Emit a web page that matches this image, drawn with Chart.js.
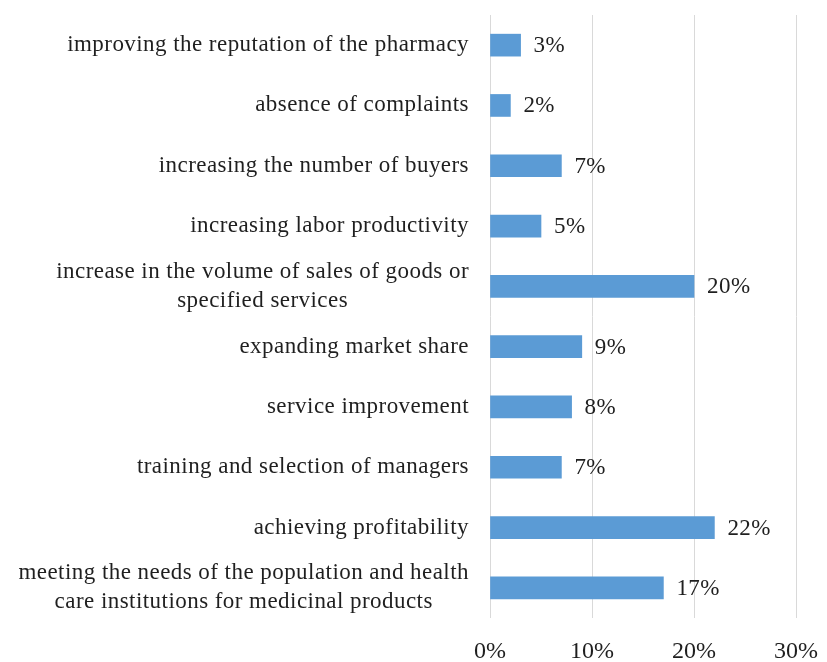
<!DOCTYPE html>
<html>
<head>
<meta charset="utf-8">
<script src="https://cdn.jsdelivr.net/npm/chart.js@4.4.0/dist/chart.umd.min.js"></script>
<style>
  html, body { margin: 0; padding: 0; background: #fff; }
  #wrap { width: 827px; height: 662px; }
</style>
</head>
<body>
<div id="wrap"><canvas id="goalsChart" width="827" height="662"></canvas></div>
<script>
// categories top to bottom, each entry is a list of lines
const categories = [
  ['improving the reputation of the pharmacy'],
  ['absence of complaints'],
  ['increasing the number of buyers'],
  ['increasing labor productivity'],
  ['increase in the volume of sales of goods or', 'specified services'],
  ['expanding market share'],
  ['service improvement'],
  ['training and selection of managers'],
  ['achieving profitability'],
  ['meeting the needs of the population and health', 'care institutions for medicinal products']
];
const shares = [3, 2, 7, 5, 20, 9, 8, 7, 22, 17];
const xTicks = [0, 10, 20, 30];

const SERIF = '"Liberation Serif", "Times New Roman", serif';
const FONT = '23px ' + SERIF;
const TEXT_COLOR = '#1f1f1f';

// draws the category names (centered lines, right-aligned block) and the value labels
const labelsPlugin = {
  id: 'labelsPlugin',
  afterDatasetsDraw(chart) {
    const ctx = chart.ctx;
    const yScale = chart.scales.y;
    const meta = chart.getDatasetMeta(0);
    const rightEdge = chart.chartArea.left - 21;
    const lineHeight = 29;
    ctx.save();
    ctx.font = FONT;
    ctx.letterSpacing = '0.45px';
    ctx.fillStyle = TEXT_COLOR;
    ctx.textBaseline = 'middle';

    categories.forEach((lines, i) => {
      const y = yScale.getPixelForTick(i);
      const widest = Math.max(...lines.map(l => ctx.measureText(l).width));
      const cx = rightEdge - widest / 2;
      ctx.textAlign = 'center';
      lines.forEach((line, k) => {
        const ly = y + (k - (lines.length - 1) / 2) * lineHeight;
        ctx.fillText(line, cx, ly);
      });
    });

    ctx.textAlign = 'left';
    meta.data.forEach((bar, i) => {
      ctx.fillText(shares[i] + '%', bar.x + 13, bar.y + 1);
    });
    ctx.restore();
  }
};

new Chart(document.getElementById('goalsChart'), {
  type: 'bar',
  data: {
    labels: categories.map(l => l.join(' ')),
    datasets: [{
      data: shares,
      backgroundColor: '#5b9bd5',
      borderWidth: 0,
      barThickness: 22
    }]
  },
  options: {
    indexAxis: 'y',
    responsive: false,
    animation: false,
    layout: { padding: { left: 490, right: 31, top: 15, bottom: 0 } },
    plugins: {
      legend: { display: false },
      tooltip: { enabled: false }
    },
    scales: {
      y: { display: false },
      x: {
        min: xTicks[0],
        max: xTicks[xTicks.length - 1],
        afterBuildTicks: scale => { scale.ticks = xTicks.map(v => ({ value: v })); },
        afterFit: scale => {
          scale.height = 44;
          scale.paddingLeft = 0;
          scale.paddingRight = 0;
        },
        grid: { color: '#d9d9d9', drawTicks: false },
        border: { display: false },
        ticks: {
          padding: 19,
          color: TEXT_COLOR,
          font: { family: SERIF, size: 24 },
          callback: v => v + '%'
        }
      }
    }
  },
  plugins: [labelsPlugin]
});
</script>
</body>
</html>
